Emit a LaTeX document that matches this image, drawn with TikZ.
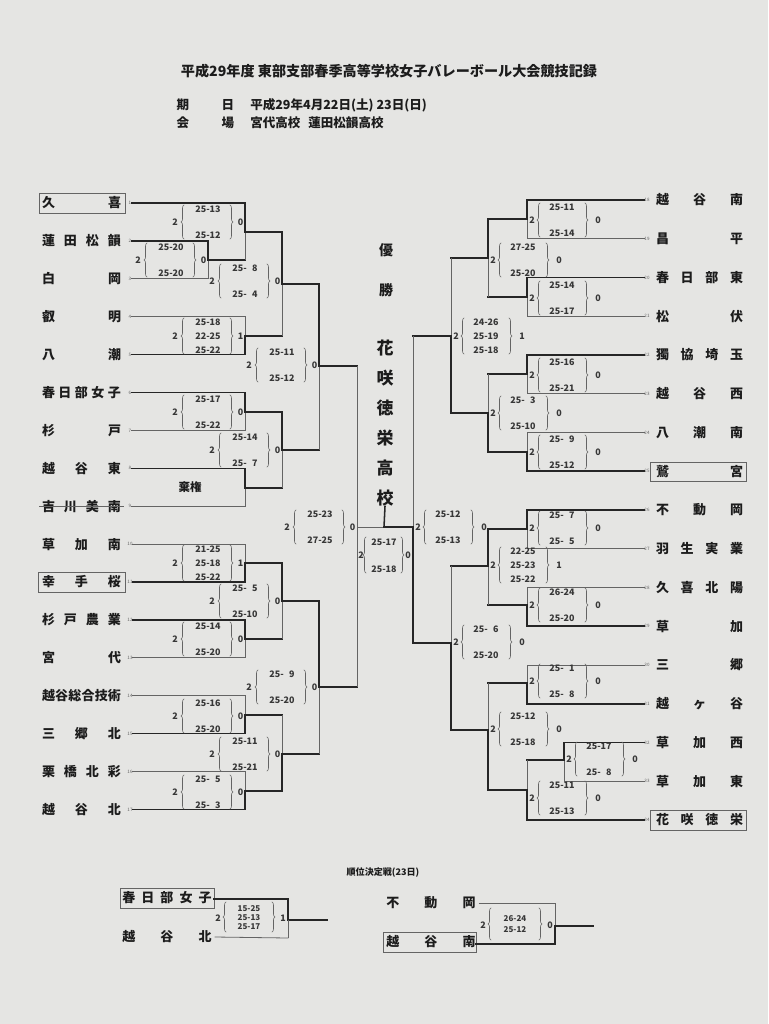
\documentclass[tikz,border=0pt]{standalone}
\usepackage{fontspec}
\setmainfont{Noto Sans CJK JP}
\usetikzlibrary{decorations.pathreplacing}
\definecolor{paper}{RGB}{229,229,227}
\definecolor{ink}{RGB}{38,38,38}
\definecolor{inkl}{RGB}{100,100,100}
\definecolor{txt}{RGB}{28,28,28}
\definecolor{sctxt}{RGB}{55,55,55}
\tikzset{
  win/.style={draw=ink, line width=1.15pt},
  lose/.style={draw=inkl, line width=0.6pt},
  br/.style={draw=inkl, line width=0.45pt, decorate, decoration={brace, amplitude=2.2pt}},
  sc/.style={inner sep=0pt, text=sctxt, font=\bfseries\fontsize{6.7}{7}\selectfont},
  tname/.style={inner sep=0pt, text=txt, font=\bfseries\fontsize{9.75}{10}\selectfont},
  tnum/.style={inner sep=0pt, text=inkl, font=\fontsize{3.4}{4}\selectfont},
  hdr/.style={inner sep=0pt, text=txt, font=\bfseries\fontsize{9.4}{10}\selectfont},
  namebox/.style={draw=inkl, line width=0.7pt},
}
\newcommand\zsp{\phantom{0}}
\newcommand\LNm[1]{\hbox to 59.25pt{#1}}
\newcommand\RNm[1]{\hbox to 65.25pt{#1}}
\newcommand\BNm[1]{\hbox to 67pt{#1}}
% match: X, Ytop, Ybot, Yout, Xnext, top style, bottom style, out style
\newcommand\Mt[8]{%
  \draw[#6] (#1,#2) -- (#1,#4);
  \draw[#7] (#1,#4) -- (#1,#3);
  \draw[#8] (#1,#4) -- (#5,#4);}
% left score blocks
\newcommand\LII[5]{%
  \node[sc] at ({#1-70},#2) {2};
  \draw[br] ({#1-61},{#2+17}) -- ({#1-61},{#2-17});
  \node[sc] at ({#1-37},{#2-13}) {#3};
  \node[sc] at ({#1-37},{#2+13}) {#4};
  \draw[br] ({#1-15},{#2-17}) -- ({#1-15},{#2+17});
  \node[sc] at ({#1-4.5},#2) {#5};}
\newcommand\LIII[6]{%
  \node[sc] at ({#1-70},#2) {2};
  \draw[br] ({#1-61},{#2+18}) -- ({#1-61},{#2-18});
  \node[sc] at ({#1-37},{#2-14}) {#3};
  \node[sc] at ({#1-37},#2) {#4};
  \node[sc] at ({#1-37},{#2+14}) {#5};
  \draw[br] ({#1-15},{#2-18}) -- ({#1-15},{#2+18});
  \node[sc] at ({#1-4.5},#2) {#6};}
% right score blocks
\newcommand\RII[5]{%
  \node[sc] at ({#1+5},#2) {2};
  \draw[br] ({#1+13},{#2+17}) -- ({#1+13},{#2-17});
  \node[sc] at ({#1+35},{#2-13}) {#3};
  \node[sc] at ({#1+35},{#2+13}) {#4};
  \draw[br] ({#1+58},{#2-17}) -- ({#1+58},{#2+17});
  \node[sc] at ({#1+71},#2) {#5};}
\newcommand\RIII[6]{%
  \node[sc] at ({#1+5},#2) {2};
  \draw[br] ({#1+13},{#2+18}) -- ({#1+13},{#2-18});
  \node[sc] at ({#1+35},{#2-14}) {#3};
  \node[sc] at ({#1+35},#2) {#4};
  \node[sc] at ({#1+35},{#2+14}) {#5};
  \draw[br] ({#1+58},{#2-18}) -- ({#1+58},{#2+18});
  \node[sc] at ({#1+71},#2) {#6};}
\begin{document}
\begin{tikzpicture}[x=0.75pt,y=-0.75pt,line cap=rect]
\fill[paper] (0,0) rectangle (768,1024);
\useasboundingbox (0,0) rectangle (768,1024);

% ---------- header ----------
\node[inner sep=0pt, text=txt, font=\bfseries\fontsize{10.6}{12}\selectfont] (title) at (389,71)
  {平成29年度 東部支部春季高等学校女子バレーボール大会競技記録};
\node[hdr] (ki) at (183,105) {期};
\node[hdr] (hi) at (228,105) {日};
\node[hdr, anchor=west] (date) at (250,105) {平成29年4月22日(土) 23日(日)};
\node[hdr] (kai) at (183,123) {会};
\node[hdr] (jo) at (228,123) {場};
\node[hdr, anchor=west] (venue) at (250,123) {宮代高校\hspace{6pt}蓮田松韻高校};

% ---------- left teams ----------
\draw[namebox] (39,193) rectangle (125,213);
\draw[namebox] (38,572) rectangle (125,592);
\node[tname] (L1)  at (81.5,203)   {\LNm{久\hfil 喜}};
\node[tname] (L2)  at (81.5,240.9) {\LNm{蓮\hfil 田\hfil 松\hfil 韻}};
\node[tname] (L3)  at (81.5,278.8) {\LNm{白\hfil 岡}};
\node[tname] (L4)  at (81.5,316.7) {\LNm{叡\hfil 明}};
\node[tname] (L5)  at (81.5,354.6) {\LNm{八\hfil 潮}};
\node[tname] (L6)  at (81.5,392.5) {\LNm{春\hfil 日\hfil 部\hfil 女\hfil 子}};
\node[tname] (L7)  at (81.5,430.4) {\LNm{杉\hfil 戸}};
\node[tname] (L8)  at (81.5,468.3) {\LNm{越\hfil 谷\hfil 東}};
\node[tname] (L9)  at (81.5,506.2) {\LNm{吉\hfil 川\hfil 美\hfil 南}};
\node[tname] (L10) at (81.5,544.1) {\LNm{草\hfil 加\hfil 南}};
\node[tname] (L11) at (81.5,582)   {\LNm{幸\hfil 手\hfil 桜}};
\node[tname] (L12) at (81.5,619.9) {\LNm{杉\hfil 戸\hfil 農\hfil 業}};
\node[tname] (L13) at (81.5,657.8) {\LNm{宮\hfil 代}};
\node[tname] (L14) at (81.5,695.7) {\LNm{越\hfil 谷\hfil 総\hfil 合\hfil 技\hfil 術}};
\node[tname] (L15) at (81.5,733.6) {\LNm{三\hfil 郷\hfil 北}};
\node[tname] (L16) at (81.5,771.5) {\LNm{栗\hfil 橋\hfil 北\hfil 彩}};
\node[tname] (L17) at (81.5,809.4) {\LNm{越\hfil 谷\hfil 北}};
\draw[lose] (L9.west) ++(-2,0) -- ([xshift=2pt]L9.east);
\foreach \i/\y in {1/203,2/240.9,3/278.8,4/316.7,5/354.6,6/392.5,7/430.4,8/468.3,9/506.2,10/544.1,11/582,12/619.9,13/657.8,14/695.7,15/733.6,16/771.5,17/809.4}
  \node[tnum] (n\i) at (130,\y) {\i};

% left feed lines
\draw[win]  (n1.east)  -- (245,203);
\draw[win]  (n2.east)  -- (208,240.9);
\draw[lose] (n3.east)  -- (208,278.8);
\draw[lose] (n4.east)  -- (245,316.7);
\draw[win]  (n5.east)  -- (245,354.6);
\draw[win]  (n6.east)  -- (245,392.5);
\draw[lose] (n7.east)  -- (245,430.4);
\draw[win]  (n8.east)  -- (245,468.3);
\draw[lose] (n9.east)  -- (245,506.2);
\draw[lose] (n10.east) -- (245,544.1);
\draw[win]  (n11.east) -- (245,582);
\draw[win]  (n12.east) -- (245,619.9);
\draw[lose] (n13.east) -- (245,657.8);
\draw[lose] (n14.east) -- (245,695.7);
\draw[win]  (n15.east) -- (245,733.6);
\draw[lose] (n16.east) -- (245,771.5);
\draw[win]  (n17.east) -- (245,809.4);

% left matches
\Mt{208}{240.9}{278.8}{260}{245}{win}{lose}{win}
\Mt{245}{203}{260}{232}{282}{win}{lose}{win}
\Mt{245}{316.7}{354.6}{336}{282}{lose}{win}{win}
\Mt{282}{232}{336}{284}{319}{win}{lose}{win}
\Mt{245}{392.5}{430.4}{412}{282}{win}{lose}{win}
\Mt{245}{468.3}{506.2}{488}{282}{win}{lose}{win}
\Mt{282}{412}{488}{450}{319}{win}{lose}{win}
\Mt{319}{284}{450}{366}{357}{win}{lose}{win}
\Mt{245}{544.1}{582}{563}{282}{lose}{win}{win}
\Mt{245}{619.9}{657.8}{639}{282}{win}{lose}{win}
\Mt{282}{563}{639}{601}{319}{win}{lose}{win}
\Mt{245}{695.7}{733.6}{715}{282}{lose}{win}{win}
\Mt{245}{771.5}{809.4}{791}{282}{lose}{win}{win}
\Mt{282}{715}{791}{754}{319}{lose}{win}{win}
\Mt{319}{601}{754}{687}{357}{win}{lose}{win}
\Mt{357}{366}{687}{527}{384}{lose}{lose}{lose}

% left scores
\LII{208}{260}{25-20}{25-20}{0}
\LII{245}{222}{25-13}{25-12}{0}
\LIII{245}{336}{25-18}{22-25}{25-22}{1}
\LII{282}{281}{25-\zsp8}{25-\zsp4}{0}
\LII{245}{412}{25-17}{25-22}{0}
\node[inner sep=0pt, text=txt, font=\bfseries\fontsize{8.6}{9}\selectfont] (kiken) at (190,487) {棄権};
\LII{282}{450}{25-14}{25-\zsp7}{0}
\LII{319}{365}{25-11}{25-12}{0}
\LIII{245}{563}{21-25}{25-18}{25-22}{1}
\LII{245}{639}{25-14}{25-20}{0}
\LII{282}{601}{25-\zsp5}{25-10}{0}
\LII{245}{716}{25-16}{25-20}{0}
\LII{245}{792}{25-\zsp5}{25-\zsp3}{0}
\LII{282}{754}{25-11}{25-21}{0}
\LII{319}{687}{25-\zsp9}{25-20}{0}
\LII{357}{527}{25-23}{27-25}{0}

% ---------- right teams ----------
\draw[namebox] (650,462) rectangle (746,481);
\draw[namebox] (650,810) rectangle (746,830);
\node[tname] (R18) at (699.5,200)    {\RNm{越\hfil 谷\hfil 南}};
\node[tname] (R19) at (699.5,238.75) {\RNm{昌\hfil 平}};
\node[tname] (R20) at (699.5,277.5)  {\RNm{春\hfil 日\hfil 部\hfil 東}};
\node[tname] (R21) at (699.5,316.25) {\RNm{松\hfil 伏}};
\node[tname] (R22) at (699.5,355)    {\RNm{獨\hfil 協\hfil 埼\hfil 玉}};
\node[tname] (R23) at (699.5,393.75) {\RNm{越\hfil 谷\hfil 西}};
\node[tname] (R24) at (699.5,432.5)  {\RNm{八\hfil 潮\hfil 南}};
\node[tname] (R25) at (699.5,471.25) {\RNm{鷲\hfil 宮}};
\node[tname] (R26) at (699.5,510)    {\RNm{不\hfil 動\hfil 岡}};
\node[tname] (R27) at (699.5,548.75) {\RNm{羽\hfil 生\hfil 実\hfil 業}};
\node[tname] (R28) at (699.5,587.5)  {\RNm{久\hfil 喜\hfil 北\hfil 陽}};
\node[tname] (R29) at (699.5,626.25) {\RNm{草\hfil 加}};
\node[tname] (R30) at (699.5,665)    {\RNm{三\hfil 郷}};
\node[tname] (R31) at (699.5,703.75) {\RNm{越\hfil ヶ\hfil 谷}};
\node[tname] (R32) at (699.5,742.5)  {\RNm{草\hfil 加\hfil 西}};
\node[tname] (R33) at (699.5,781.25) {\RNm{草\hfil 加\hfil 東}};
\node[tname] (R34) at (699.5,820)    {\RNm{花\hfil 咲\hfil 徳\hfil 栄}};
\foreach \i/\y in {18/200,19/238.75,20/277.5,21/316.25,22/355,23/393.75,24/432.5,25/471.25,26/510,27/548.75,28/587.5,29/626.25,30/665,31/703.75,32/742.5,33/781.25,34/820}
  \node[tnum] (n\i) at (647,\y) {\i};

% right feed lines
\draw[win]  (527,200)    -- (n18.west);
\draw[lose] (527,238.75) -- (n19.west);
\draw[win]  (527,277.5)  -- (n20.west);
\draw[lose] (527,316.25) -- (n21.west);
\draw[win]  (527,355)    -- (n22.west);
\draw[lose] (527,393.75) -- (n23.west);
\draw[lose] (527,432.5)  -- (n24.west);
\draw[win]  (527,471.25) -- (n25.west);
\draw[win]  (527,510)    -- (n26.west);
\draw[lose] (527,548.75) -- (n27.west);
\draw[lose] (527,587.5)  -- (n28.west);
\draw[win]  (527,626.25) -- (n29.west);
\draw[lose] (527,665)    -- (n30.west);
\draw[win]  (527,703.75) -- (n31.west);
\draw[win]  (564,742.5)  -- (n32.west);
\draw[lose] (564,781.25) -- (n33.west);
\draw[win]  (527,820)    -- (n34.west);

% right matches
\Mt{527}{200}{238.75}{219}{488}{win}{lose}{win}
\Mt{527}{277.5}{316.25}{297}{488}{win}{lose}{win}
\Mt{488}{219}{297}{258}{451}{win}{lose}{win}
\Mt{527}{355}{393.75}{374}{488}{win}{lose}{win}
\Mt{527}{432.5}{471.25}{452}{488}{lose}{win}{win}
\Mt{488}{374}{452}{413}{451}{lose}{win}{win}
\Mt{451}{258}{413}{336}{413}{lose}{win}{win}
\Mt{527}{510}{548.75}{529}{488}{win}{lose}{win}
\Mt{527}{587.5}{626.25}{605}{488}{lose}{win}{win}
\Mt{488}{529}{605}{566}{451}{win}{lose}{win}
\Mt{527}{665}{703.75}{683}{488}{lose}{win}{win}
\Mt{564}{742.5}{781.25}{760}{527}{win}{lose}{win}
\Mt{527}{760}{820}{790}{488}{lose}{win}{win}
\Mt{488}{683}{790}{730}{451}{lose}{win}{win}
\Mt{451}{566}{730}{643}{413}{lose}{win}{win}
\Mt{413}{336}{643}{527}{384}{lose}{win}{win}

% right scores
\RII{527}{220}{25-11}{25-14}{0}
\RII{527}{298}{25-14}{25-17}{0}
\RII{488}{260}{27-25}{25-20}{0}
\RII{527}{375}{25-16}{25-21}{0}
\RII{527}{452}{25-\zsp9}{25-12}{0}
\RII{488}{413}{25-\zsp3}{25-10}{0}
\RIII{451}{336}{24-26}{25-19}{25-18}{1}
\RII{527}{528}{25-\zsp7}{25-\zsp5}{0}
\RII{527}{605}{26-24}{25-20}{0}
\RIII{488}{565}{22-25}{25-23}{25-22}{1}
\RII{527}{681}{25-\zsp1}{25-\zsp8}{0}
\RII{564}{759}{25-17}{25-\zsp8}{0}
\RII{527}{798}{25-11}{25-13}{0}
\RII{488}{729}{25-12}{25-18}{0}
\RII{451}{642}{25-\zsp6}{25-20}{0}
\RII{413}{527}{25-12}{25-13}{0}

% ---------- centre / champion ----------
\node[inner sep=0pt, text=txt, align=center, font=\bfseries\fontsize{10.5}{30}\selectfont] (yusho) at (386,270) {優\\勝};
\node[inner sep=0pt, text=txt, align=center, font=\bfseries\fontsize{12.75}{22.5}\selectfont] (champ) at (385,423) {花\\咲\\徳\\栄\\高\\校};
\coordinate (pole) at (384,527);
\draw[win] (pole) -- (champ.south);
\node[sc] at (361,555) {2};
\draw[br] (366,573) -- (366,537);
\node[sc] at (384,542) {25-17};
\node[sc] at (384,569) {25-18};
\draw[br] (401,537) -- (401,573);
\node[sc] at (408,555) {0};

% ---------- placement matches ----------
\node[inner sep=0pt, text=txt, font=\bfseries\fontsize{6.8}{8}\selectfont] (jun) at (383,873) {順位決定戦(23日)};
\draw[namebox] (120,888) rectangle (214,908);
\node[tname] (P1) at (167,898) {\BNm{春\hfil 日\hfil 部\hfil 女\hfil 子}};
\node[tname] (P2) at (167,937) {\BNm{越\hfil 谷\hfil 北}};
\draw[lose] (P2.east) ++(3,0) -- (288,938);
\draw[win] (214,899) -- (288,899) -- (288,920) -- (327,920);
\draw[lose] (288,920) -- (288,938);
\node[sc] at (218,918) {2};
\draw[br] (226,932) -- (226,902);
\node[sc, font=\bfseries\fontsize{6}{7}\selectfont] at (249,909) {15-25};
\node[sc, font=\bfseries\fontsize{6}{7}\selectfont] at (249,918) {25-13};
\node[sc, font=\bfseries\fontsize{6}{7}\selectfont] at (249,927) {25-17};
\draw[br] (272,902) -- (272,932);
\node[sc] at (283,918) {1};

\node[tname] (P3) at (431,903) {\BNm{不\hfil 動\hfil 岡}};
\draw[namebox] (383,932) rectangle (476,952);
\node[tname] (P4) at (431,942) {\BNm{越\hfil 谷\hfil 南}};
\draw[lose] (P3.east) ++(3,0) -- (555,903) -- (555,926);
\draw[win] (476,944) -- (555,944) -- (555,926) -- (593,926);
\node[sc] at (483,925) {2};
\draw[br] (491,940) -- (491,908);
\node[sc, font=\bfseries\fontsize{6}{7}\selectfont] at (515,919) {26-24};
\node[sc, font=\bfseries\fontsize{6}{7}\selectfont] at (515,930) {25-12};
\draw[br] (539,908) -- (539,940);
\node[sc] at (550,925) {0};
\end{tikzpicture}
\end{document}
